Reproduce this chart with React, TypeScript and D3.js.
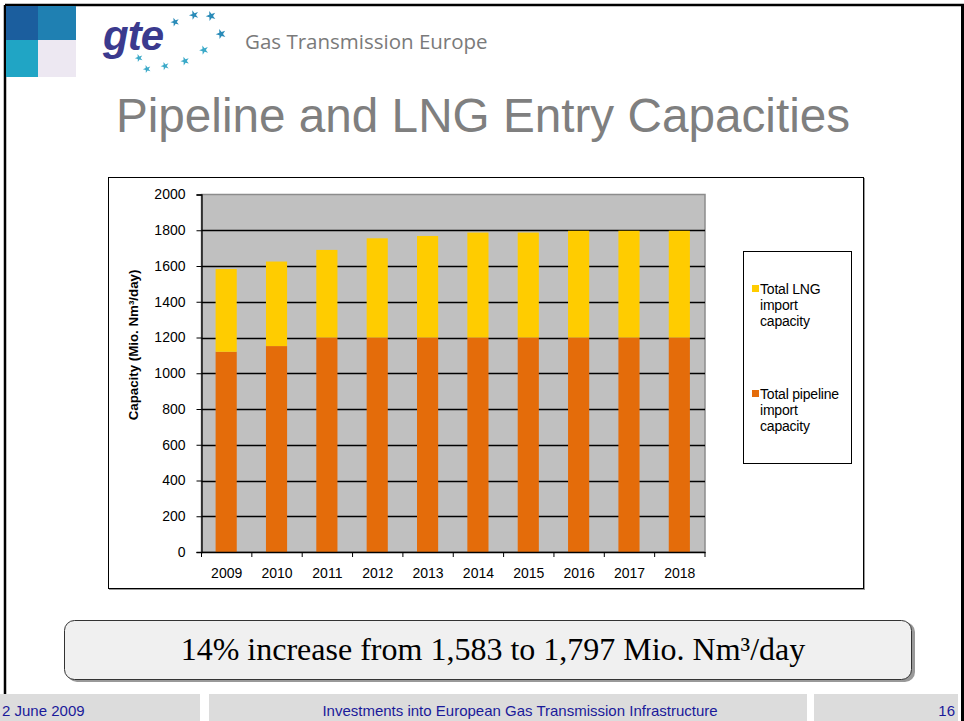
import * as React from 'react';
import * as d3 from 'd3';

const years = ['2009', '2010', '2011', '2012', '2013', '2014', '2015', '2016', '2017', '2018'];
const pipelineCapacity = [1120, 1152, 1200, 1200, 1200, 1200, 1200, 1200, 1200, 1200];
const lngCapacity = [463, 473, 490, 555, 568, 587, 587, 597, 597, 597];
const yTicks = [0, 200, 400, 600, 800, 1000, 1200, 1400, 1600, 1800, 2000];
const legendItems = [
  { key: 'lng', lines: ['Total LNG', 'import', 'capacity'], color: '#ffcc00' },
  { key: 'pipeline', lines: ['Total pipeline', 'import', 'capacity'], color: '#e46c0a' },
];

const W = 964;
const H = 721;
const plot = { left: 201.5, right: 705, top: 194.5, bottom: 552 };
const SANS = 'Liberation Sans, Arial, sans-serif';

export default function App() {
  const ref = React.useRef<SVGSVGElement>(null);

  React.useEffect(() => {
    const svg = d3.select(ref.current);
    svg.selectAll('*').remove();

    // slide frame
    svg.append('rect').attr('width', W).attr('height', H).attr('fill', '#fff');
    svg.append('line').attr('x1', 5).attr('x2', W).attr('y1', 5).attr('y2', 5)
      .attr('stroke', '#000').attr('stroke-width', 2.5);
    svg.append('line').attr('x1', 5).attr('x2', 5).attr('y1', 5).attr('y2', 694)
      .attr('stroke', '#000').attr('stroke-width', 2.5);
    svg.append('line').attr('x1', 962.5).attr('x2', 962.5).attr('y1', 5).attr('y2', H)
      .attr('stroke', '#000').attr('stroke-width', 3);

    // corner squares
    const sq = [
      { x: 6, y: 6, c: '#1b5e9e' },
      { x: 38, y: 6, c: '#1f80b2' },
      { x: 6, y: 40, c: '#20a5c5' },
      { x: 38, y: 40, c: '#ede8f2' },
    ];
    svg.selectAll('rect.sq').data(sq).enter().append('rect')
      .attr('x', (d) => d.x).attr('y', (d) => d.y)
      .attr('width', (d) => (d.x === 6 ? 32 : 38)).attr('height', (d) => (d.y === 6 ? 34 : 37))
      .attr('fill', (d) => d.c);

    // logo
    svg.append('text').attr('x', 103).attr('y', 50).text('gte')
      .attr('font-family', SANS).attr('font-style', 'italic')
      .attr('font-weight', 'bold').attr('font-size', 42).attr('letter-spacing', -1).attr('fill', '#3b3a8e');
    const stars = [[175, 22, 1], [194, 15, 1.2], [211, 16, 1.3], [221, 34, 1.3], [204, 50, 1.1],
      [185, 61, 1], [165, 66, 0.9], [147, 69, 0.8], [139, 58, 0.8]];
    svg.selectAll('path.star').data(stars).enter().append('path')
      .attr('d', (d) => d3.symbol().type(d3.symbolStar).size(24 * d[2])())
      .attr('transform', (d) => `translate(${d[0]},${d[1]}) rotate(-20)`)
      .attr('fill', (_d, i) => (i < 4 ? '#2a8bb8' : '#3aa9c8'));
    svg.append('text').attr('x', 245).attr('y', 49).text('Gas Transmission Europe')
      .attr('font-family', 'Open Sans, Noto Sans, sans-serif').attr('font-size', 20.5).attr('fill', '#7a7a7a');

    // title
    svg.append('text').attr('x', 483).attr('y', 132).attr('text-anchor', 'middle')
      .text('Pipeline and LNG Entry Capacities')
      .attr('font-family', SANS).attr('font-size', 47.7).attr('fill', '#7f7f7f');

    // chart frame
    svg.append('rect').attr('x', 108.5).attr('y', 177.5).attr('width', 755).attr('height', 411)
      .attr('fill', '#fff').attr('stroke', '#000').attr('stroke-width', 1)
      .style('filter', 'drop-shadow(1px 1px 0px #999)');

    const x = d3.scaleBand<string>().domain(years).range([plot.left, plot.right]).padding(0);
    const y = d3.scaleLinear().domain([0, 2000]).range([plot.bottom, plot.top]);
    const barW = x.bandwidth() * 0.42;

    svg.append('rect').attr('x', plot.left).attr('y', plot.top)
      .attr('width', plot.right - plot.left).attr('height', plot.bottom - plot.top)
      .attr('fill', '#c0c0c0').attr('stroke', '#8c8c8c').attr('stroke-width', 1.5);

    // gridlines
    svg.selectAll('line.grid').data(yTicks.filter((t) => t > 0 && t < 2000)).enter().append('line')
      .attr('x1', plot.left).attr('x2', plot.right)
      .attr('y1', (d) => Math.round(y(d)) + 0.5).attr('y2', (d) => Math.round(y(d)) + 0.5)
      .attr('stroke', '#000').attr('stroke-width', 1.4);

    // stacked bars
    const rows = years.map((yr, i) => ({ year: yr, pipeline: pipelineCapacity[i], lng: lngCapacity[i] }));
    const stack = d3.stack<any>().keys(['pipeline', 'lng']);
    const colors: Record<string, string> = { pipeline: '#e46c0a', lng: '#ffcc00' };
    const layers = stack(rows);
    layers.forEach((layer) => {
      svg.selectAll(`rect.${layer.key}`).data(layer).enter().append('rect')
        .attr('x', (d: any) => (x(d.data.year) as number) + (x.bandwidth() - barW) / 2 - 0.5)
        .attr('y', (d) => y(d[1]))
        .attr('width', barW)
        .attr('height', (d) => y(d[0]) - y(d[1]))
        .attr('fill', colors[layer.key]);
    });

    // axes
    const yAxis = svg.append('g').attr('transform', `translate(${plot.left},0)`)
      .call(d3.axisLeft(y).tickValues(yTicks).tickSize(5).tickPadding(11).tickFormat(d3.format('d')));
    yAxis.select('.domain').attr('stroke', '#000').attr('stroke-width', 1.3);
    yAxis.selectAll('.tick line').attr('stroke', '#000');
    yAxis.selectAll('text').attr('font-family', SANS).attr('font-size', 14).attr('fill', '#000');

    const xAxis = svg.append('g').attr('transform', `translate(0,${plot.bottom})`)
      .call(d3.axisBottom(x).tickSize(0).tickPadding(16));
    xAxis.select('.domain').attr('stroke', '#000').attr('stroke-width', 1.3);
    xAxis.selectAll('text').attr('font-family', SANS).attr('font-size', 14).attr('fill', '#000');
    const bounds = years.map((yr) => x(yr) as number).concat([plot.right]);
    svg.selectAll('line.xtick').data(bounds).enter().append('line')
      .attr('x1', (d) => d).attr('x2', (d) => d)
      .attr('y1', plot.bottom).attr('y2', plot.bottom + 5).attr('stroke', '#000');

    svg.append('text')
      .attr('transform', `translate(138,345) rotate(-90)`)
      .attr('text-anchor', 'middle')
      .text('Capacity (Mio. Nm³/day)')
      .attr('font-family', SANS).attr('font-weight', 'bold')
      .attr('font-size', 13.3).attr('fill', '#000');

    // legend
    svg.append('rect').attr('x', 743.5).attr('y', 251.5).attr('width', 108).attr('height', 212)
      .attr('fill', '#fff').attr('stroke', '#000');
    const lg = svg.selectAll('g.lg').data(legendItems).enter().append('g')
      .attr('transform', (_d, i) => `translate(750,${289 + i * 105})`);
    lg.append('rect').attr('x', 2).attr('y', -4).attr('width', 7).attr('height', 7)
      .attr('fill', (d) => d.color);
    lg.each(function (d) {
      const g = d3.select(this);
      d.lines.forEach((ln, j) => {
        g.append('text').attr('x', 10).attr('y', j * 16 + 5).text(ln)
          .attr('font-family', SANS).attr('font-size', 14)
          .attr('letter-spacing', -0.2).attr('fill', '#000');
      });
    });

    // summary box
    svg.append('rect').attr('x', 67).attr('y', 622).attr('width', 848).attr('height', 60).attr('rx', 10)
      .attr('fill', '#999');
    svg.append('rect').attr('x', 64.5).attr('y', 620.5).attr('width', 847).attr('height', 59).attr('rx', 10)
      .attr('fill', '#f0f0f0').attr('stroke', '#333').attr('stroke-width', 1);
    svg.append('text').attr('x', 493).attr('y', 660).attr('text-anchor', 'middle')
      .text('14% increase from 1,583 to 1,797 Mio. Nm³/day')
      .attr('font-family', 'Liberation Serif, Times New Roman, serif').attr('font-size', 32).attr('fill', '#000');

    // footer
    const footer = [
      { x: 0, w: 200, text: '2 June 2009', anchor: 'start', tx: 2 },
      { x: 209, w: 598, text: 'Investments into European Gas Transmission Infrastructure', anchor: 'middle', tx: 520 },
      { x: 814, w: 144, text: '16', anchor: 'end', tx: 955 },
    ];
    const fg = svg.selectAll('g.ft').data(footer).enter().append('g');
    fg.append('rect').attr('x', (d) => d.x).attr('y', 694).attr('width', (d) => d.w).attr('height', 27)
      .attr('fill', '#dcdcdc');
    fg.append('text').attr('x', (d) => d.tx).attr('y', 716).attr('text-anchor', (d) => d.anchor)
      .text((d) => d.text)
      .attr('font-family', SANS).attr('font-size', 15).attr('fill', '#1a1a9a');
  }, []);

  return (
    <svg
      ref={ref}
      width={W}
      height={H}
      style={{ position: 'absolute', left: 0, top: 0, display: 'block' }}
    />
  );
}
